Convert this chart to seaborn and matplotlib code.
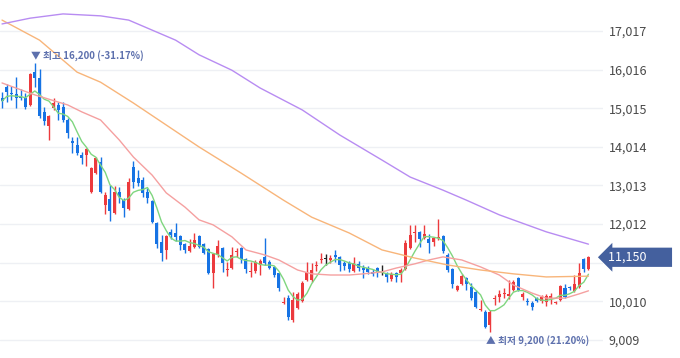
import numpy as np
import pandas as pd
import matplotlib
matplotlib.use("Agg")
import matplotlib.pyplot as plt
import matplotlib.transforms as mtransforms
import seaborn as sns

# daily candles, oldest first
opens = [15280, 15570, 15410, 15380, 15330, 15280, 15100, 15950, 15800, 14920,
         14550, 15020, 15100, 15050, 14710, 14170, 14060, 13800, 13800, 12840,
         13340, 13620, 12510, 12660, 12300, 12840, 12640, 12400, 13490, 13210,
         13150, 12840, 12610, 12040, 11550, 11340, 11810, 11780, 11700, 11490,
         11310, 11420, 11700, 11490, 11360, 10740, 11210, 11390, 10820, 10870,
         11290, 11390, 11110, 10770, 10790, 10950, 11160, 11030, 10900, 10740,
         9960, 10090, 9530, 9830, 10020, 10560, 10560, 10920, 11080, 11100,
         11080, 11210, 11160, 11000, 11000, 10790, 10980, 10870, 10870, 10770,
         10870, 10740, 10740, 10590, 10740, 10740, 10850, 11390, 11780, 11810,
         11650, 11620, 11550, 11650, 11700, 11210, 10850, 10300, 10460, 10610,
         10380, 10250, 9780, 9730, 9390, 10070, 10120, 10200, 10150, 10300,
         10610, 10120, 10020, 9960, 10090, 10020, 9990, 10090, 9960, 10040,
         10350, 10380, 10280, 10380, 11110, 10850]
highs = [15440, 15640, 15590, 15820, 15510, 15410, 15930, 16200, 16030, 15050,
         14840, 15280, 15180, 15180, 14760, 14270, 14270, 13880, 13980, 13490,
         13750, 13750, 12840, 13020, 13000, 12970, 12690, 13210, 13650, 13410,
         13230, 12950, 12640, 12070, 11730, 11730, 11880, 12040, 11730, 11520,
         11620, 11780, 11730, 11520, 11390, 11260, 11600, 11420, 11030, 11420,
         11390, 11420, 11130, 11030, 11080, 11110, 11650, 11080, 10920, 10740,
         10120, 10170, 10250, 10250, 10540, 11030, 11000, 11050, 11260, 11240,
         11210, 11340, 11180, 11050, 11050, 11160, 11050, 10950, 10920, 10850,
         10900, 10950, 10770, 10770, 10770, 10870, 11600, 11990, 11990, 11830,
         11990, 11750, 11680, 12140, 11730, 11260, 10870, 10430, 10720, 10640,
         10480, 10300, 10040, 9780, 9780, 10170, 10300, 10350, 10560, 10560,
         10640, 10250, 10090, 10020, 10120, 10170, 10200, 10220, 10020, 10430,
         10460, 10410, 10690, 11000, 11130, 11180]
lows = [15020, 15180, 15230, 15020, 15230, 14990, 15070, 15570, 14760, 14580,
        14190, 14970, 14710, 14660, 14240, 13850, 13800, 13570, 13520, 12820,
        13310, 12820, 12270, 12090, 12270, 12560, 12190, 12380, 12950, 13000,
        12710, 12560, 12040, 11390, 11050, 11110, 11620, 11570, 11340, 11260,
        11290, 11390, 11390, 11240, 10720, 10350, 11160, 10770, 10660, 10850,
        11160, 11000, 10740, 10640, 10740, 10690, 10950, 10850, 10640, 10280,
        9940, 9530, 9470, 9810, 9990, 10540, 10510, 10790, 11000, 10950,
        11000, 11030, 10790, 10820, 10770, 10770, 10790, 10610, 10720, 10660,
        10640, 10690, 10510, 10540, 10510, 10510, 10820, 11370, 11550, 11420,
        11620, 11260, 11440, 11600, 11260, 10770, 10350, 10280, 10430, 10300,
        10040, 9830, 9760, 9320, 9200, 9910, 9990, 10090, 10070, 10280,
        10280, 10040, 9910, 9780, 9990, 9960, 9890, 9940, 9940, 10020,
        10090, 10300, 10250, 10350, 10770, 10820]
closes = [15200, 15440, 15380, 15280, 15280, 15050, 15900, 15800, 14810, 14680,
          14810, 15150, 14970, 14710, 14370, 14110, 13850, 13720, 13960, 13470,
          13720, 12840, 12770, 12350, 12840, 12710, 12430, 13100, 13100, 13080,
          12820, 12690, 12070, 11490, 11260, 11700, 11730, 11680, 11470, 11340,
          11440, 11600, 11420, 11260, 10740, 11240, 11440, 11000, 10850, 11210,
          11310, 11110, 10850, 10790, 11030, 11050, 11000, 10870, 10690, 10350,
          9990, 9600, 10040, 10200, 10480, 10770, 10820, 10950, 11110, 11100,
          11130, 11160, 10950, 10920, 10850, 11000, 10870, 10820, 10770, 10720,
          10740, 10740, 10640, 10720, 10640, 10820, 11520, 11730, 11810, 11620,
          11750, 11520, 11650, 11680, 11310, 10820, 10460, 10410, 10660, 10460,
          10090, 9860, 9810, 9340, 9730, 10090, 10200, 10220, 10200, 10510,
          10300, 10200, 9990, 9860, 10020, 10120, 10150, 10150, 9990, 10410,
          10120, 10350, 10460, 10740, 10850, 11150]

# longer moving averages (candle index -> value)
ma20_pos = [0, 7, 14, 17, 21, 25, 28, 32, 35, 39, 42, 45, 49, 52, 56, 59, 63, 66,
            70, 74, 77, 81, 84, 88, 91, 94, 98, 102, 106, 109, 113, 116, 120, 123, 125]
ma20 = [15670, 15360, 15100, 14920, 14710, 14190, 13750, 13280, 12820, 12450,
        12120, 11990, 11680, 11340, 11210, 11080, 10820, 10720, 10690, 10690,
        10720, 10770, 10870, 10980, 11080, 11160, 11080, 10900, 10690, 10430,
        10220, 10090, 10090, 10200, 10280]
ma60_pos = [0, 8, 16, 21, 28, 35, 42, 51, 60, 66, 74, 81, 88, 95, 102, 109, 116, 125]
ma60 = [17300, 16780, 15950, 15690, 15150, 14580, 14010, 13330, 12630, 12190,
        11780, 11340, 11130, 10950, 10820, 10720, 10640, 10660]
ma120_pos = [0, 6, 13, 21, 27, 37, 42, 49, 55, 64, 72, 81, 87, 94, 99, 106, 116, 125]
ma120 = [17200, 17350, 17460, 17410, 17300, 16780, 16400, 16000, 15540, 14970,
         14320, 13670, 13230, 12890, 12630, 12250, 11810, 11490]

y_ticks = [9009, 10010, 11011, 12012, 13013, 14014, 15015, 16016, 17017]

UP = "#ec3a3d"
DOWN = "#1673e4"

sns.set_style("white")
plt.rcParams['font.family'] = ['Noto Sans CJK KR', 'DejaVu Sans']

fig = plt.figure(figsize=(6.8, 3.58), dpi=100)
ax = fig.add_axes([0, 0, 603 / 680, 1])

idx = np.arange(len(closes))
o = np.array(opens)
c = np.array(closes)
colors = np.where(c > o, UP, np.where(c < o, DOWN, "#222222"))

# candles
ax.vlines(idx, lows, highs, colors=colors, lw=1, zorder=3)
body_h = np.maximum(np.abs(c - o), 28)
ax.bar(idx, body_h, bottom=np.minimum(o, c), width=0.64, color=colors,
       linewidth=0, zorder=3)

# moving averages
ma5 = pd.Series(closes).rolling(5, min_periods=1).mean()
sns.lineplot(x=idx, y=ma5, ax=ax, color="#7fd67f", linewidth=1.0, zorder=4)
sns.lineplot(x=ma20_pos, y=ma20, ax=ax, color="#f5a0a0", linewidth=1.0, zorder=4)
sns.lineplot(x=ma60_pos, y=ma60, ax=ax, color="#f8b57a", linewidth=1.0, zorder=4)
sns.lineplot(x=ma120_pos, y=ma120, ax=ax, color="#b88cf2", linewidth=1.0, zorder=4)

last = closes[-1]

ax.set_xlim(-0.43, 128.1)
ax.set_ylim(8538, 17821)
ax.set_xticks([])
ax.yaxis.tick_right()
ax.set_yticks(y_ticks)
# the tick hidden behind the price tag gets no label
ax.set_yticklabels(["" if abs(t - last) < 300 else f"{t:,}" for t in y_ticks])
ax.tick_params(axis='y', length=0, pad=4, labelsize=9, labelcolor="#4a4a4a")
ax.grid(axis='y', color="#eef0f4", lw=1)
ax.set_xlabel("")
ax.set_ylabel("")
for s in ax.spines.values():
    s.set_visible(False)

# high / low markers
hi_i = int(np.argmax(highs))
lo_i = int(np.argmin(lows))
hi = highs[hi_i]
lo = lows[lo_i]
ax.annotate(f"▼ 최고 {hi:,} ({(last / hi - 1) * 100:.2f}%)", xy=(hi_i, hi),
            xytext=(-3, 1), textcoords="offset points", ha="left", va="bottom",
            fontsize=7, fontweight="bold", color="#5d70ad", zorder=6)
ax.annotate(f"▲ 최저 {lo:,} ({(last / lo - 1) * 100:.2f}%)", xy=(lo_i, lo),
            xytext=(-3, -2), textcoords="offset points", ha="left", va="top",
            fontsize=7, fontweight="bold", color="#5d70ad", zorder=6)

# last price tag
trans = mtransforms.blended_transform_factory(ax.transAxes, ax.transData)
ax.text(1.009, last, f"{last:,}" + "        ", transform=trans, ha="left",
        va="center", color="white", fontsize=9, clip_on=False, zorder=10,
        bbox=dict(boxstyle="larrow,pad=0.25", fc="#44609e", ec="none"))

fig.savefig("out.png", dpi=100)
